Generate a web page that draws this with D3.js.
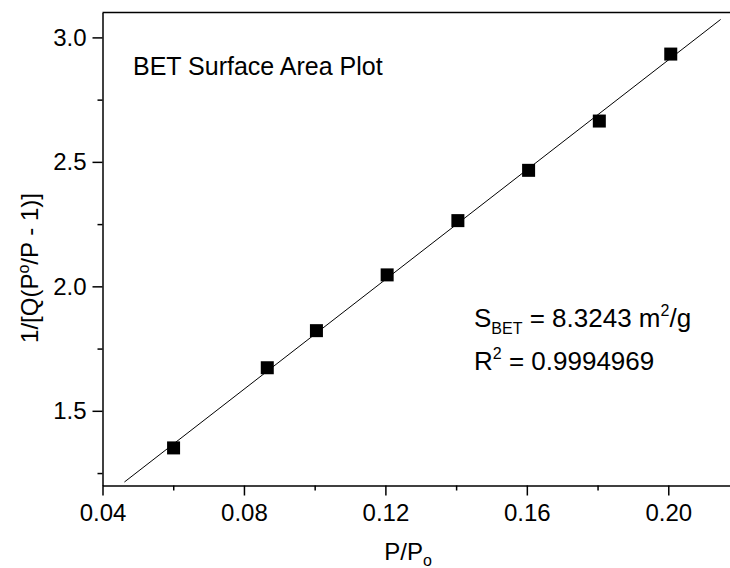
<!DOCTYPE html>
<html>
<head>
<meta charset="utf-8">
<script src="https://cdn.jsdelivr.net/npm/d3@7"></script>
<style>
  body { margin: 0; background: #fff; }
  svg { display: block; font-family: "Liberation Sans", Arial, sans-serif; }
</style>
</head>
<body>
<div id="chart"></div>
<script>
const width = 730;
const height = 568;
const margin = {top: 12.5, right: -9, bottom: 82.5, left: 102.5};

// measured points (P/Po vs 1/[Q(Po/P - 1)])
const pressure = [0.0601, 0.0866, 0.1005, 0.1205, 0.1405, 0.1605, 0.1805, 0.2007];
const betValue = [1.351, 1.673, 1.822, 2.046, 2.264, 2.466, 2.664, 2.933];

// linear fit drawn across the plot
const fitX = [0.0462, 0.2148];
const fitY = [1.214, 3.072];

const xMajor = [0.04, 0.08, 0.12, 0.16, 0.20];
const xMinor = [0.06, 0.10, 0.14, 0.18, 0.22];
const yMajor = [1.5, 2.0, 2.5, 3.0];
const yMinor = [1.25, 1.75, 2.25, 2.75];

const svg = d3.select("#chart")
    .append("svg")
    .attr("width", width)
    .attr("height", height);

const x = d3.scaleLinear()
    .domain([0.04, 0.22])
    .range([margin.left, width - margin.right]);

const y = d3.scaleLinear()
    .domain([1.2, 3.1])
    .range([height - margin.bottom, margin.top]);

// fit line
svg.append("line")
    .attr("x1", x(fitX[0])).attr("y1", y(fitY[0]))
    .attr("x2", x(fitX[1])).attr("y2", y(fitY[1]))
    .attr("stroke", "#000")
    .attr("stroke-width", 1);

// square markers
const s = 13;
svg.selectAll("rect.pt")
    .data(pressure)
    .enter()
    .append("rect")
    .attr("class", "pt")
    .attr("x", d => x(d) - s / 2)
    .attr("y", (d, i) => y(betValue[i]) - s / 2)
    .attr("width", s)
    .attr("height", s)
    .attr("fill", "#000");

// axes
const fmtX = d3.format(".2f");
const fmtY = d3.format(".1f");

svg.append("g")
    .attr("transform", `translate(0,${y(1.2)})`)
    .call(d3.axisBottom(x).tickValues(xMajor).tickSize(10).tickSizeOuter(0).tickPadding(8).tickFormat(fmtX));
svg.append("g")
    .attr("transform", `translate(0,${y(1.2)})`)
    .call(d3.axisBottom(x).tickValues(xMinor).tickSize(5).tickFormat(""))
    .select(".domain").remove();

svg.append("g")
    .attr("transform", `translate(${x(0.04)},0)`)
    .call(d3.axisLeft(y).tickValues(yMajor).tickSize(10).tickSizeOuter(0).tickPadding(6).tickFormat(fmtY));
svg.append("g")
    .attr("transform", `translate(${x(0.04)},0)`)
    .call(d3.axisLeft(y).tickValues(yMinor).tickSize(5).tickFormat(""))
    .select(".domain").remove();

// top border
svg.append("line")
    .attr("x1", x(0.04)).attr("x2", width)
    .attr("y1", y(3.1)).attr("y2", y(3.1))
    .attr("stroke", "#000").attr("stroke-width", 1.5);

svg.selectAll(".domain").attr("stroke-width", 1.5);
svg.selectAll(".tick line").attr("stroke-width", 1.5);
svg.selectAll(".tick text")
    .attr("font-size", 24)
    .attr("font-family", "'Liberation Sans', Arial, sans-serif")
    .attr("fill", "#000");

// axis titles
const xt = svg.append("text")
    .attr("x", 408).attr("y", 560)
    .attr("text-anchor", "middle")
    .attr("font-size", 24);
xt.append("tspan").text("P/P");
xt.append("tspan").attr("font-size", 16).attr("dy", 6).text("o");

const yt = svg.append("text")
    .attr("transform", `translate(38,268) rotate(-90)`)
    .attr("text-anchor", "middle")
    .attr("font-size", 24);
yt.append("tspan").text("1/[Q(P");
yt.append("tspan").attr("font-size", 16).attr("dy", -9).text("o");
yt.append("tspan").attr("dy", 9).text("/P - 1)]");

// annotations
svg.append("text")
    .attr("x", 133).attr("y", 75)
    .attr("font-size", 25)
    .text("BET Surface Area Plot");

const sb = svg.append("text")
    .attr("x", 474).attr("y", 327)
    .attr("font-size", 26);
sb.append("tspan").text("S");
sb.append("tspan").attr("font-size", 16).attr("dy", 7).text("BET");
sb.append("tspan").attr("dy", -7).text(" = 8.3243 m");
sb.append("tspan").attr("font-size", 16).attr("dy", -11).text("2");
sb.append("tspan").attr("dy", 11).text("/g");

const r2 = svg.append("text")
    .attr("x", 474).attr("y", 370)
    .attr("font-size", 26);
r2.append("tspan").text("R");
r2.append("tspan").attr("font-size", 16).attr("dy", -11).text("2");
r2.append("tspan").attr("dy", 11).text(" = 0.9994969");
</script>
</body>
</html>
